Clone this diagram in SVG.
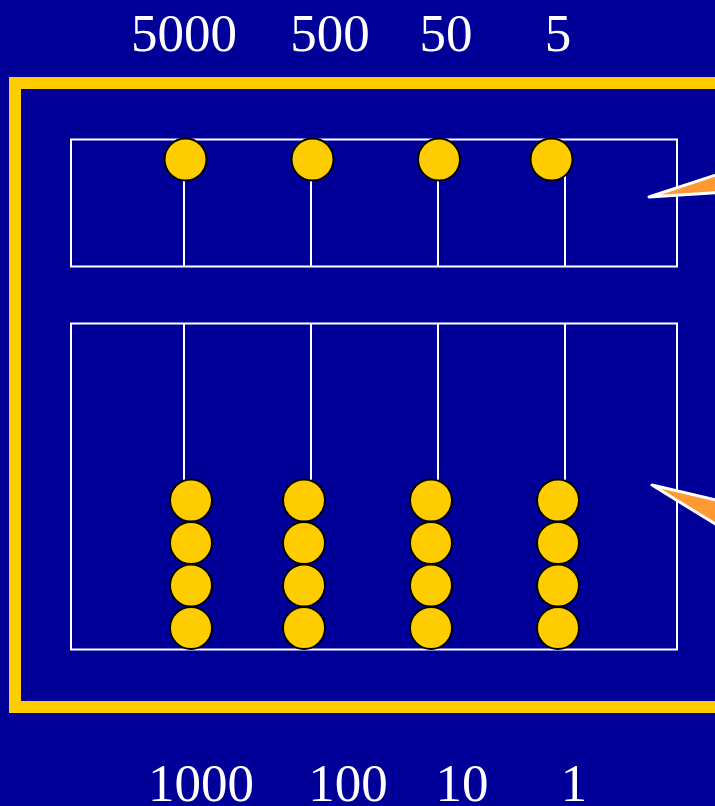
<svg xmlns="http://www.w3.org/2000/svg" width="715" height="806" viewBox="0 0 715 806">
<style>
.lbl{font-family:"Liberation Serif","Times New Roman",serif;font-size:53px;fill:#FFFFFF;text-anchor:middle}
.box{fill:none;stroke:#FFFFFF;stroke-width:2}
.rod{stroke:#FFFFFF;stroke-width:2}
.bead{fill:#FFCC00;stroke:#000000;stroke-width:2}
.ptr{fill:#FF9933;stroke:#FFFFFF;stroke-width:3;stroke-linejoin:round}
</style>
<rect width="715" height="806" fill="#000099"/>
<g id="frame"><rect x="15" y="83" width="706" height="624" fill="none" stroke="#FFCC00" stroke-width="12"/></g>
<g id="labels-top">
<text class="lbl" x="184" y="51">5000</text>
<text class="lbl" x="330" y="51">500</text>
<text class="lbl" x="446" y="51">50</text>
<text class="lbl" x="558" y="51">5</text>
</g>
<g id="labels-bottom">
<text class="lbl" x="201" y="801">1000</text>
<text class="lbl" x="348" y="801">100</text>
<text class="lbl" x="462" y="801">10</text>
<text class="lbl" x="574" y="801">1</text>
</g>
<g id="upper-deck">
<rect class="box" x="71" y="139.5" width="606" height="127"/>
<line class="rod" x1="184" y1="170" x2="184" y2="266"/>
<line class="rod" x1="311" y1="170" x2="311" y2="266"/>
<line class="rod" x1="438" y1="170" x2="438" y2="266"/>
<line class="rod" x1="565" y1="170" x2="565" y2="266"/>
<circle class="bead" cx="185.5" cy="159.5" r="21"/>
<circle class="bead" cx="312.5" cy="159.5" r="21"/>
<circle class="bead" cx="439" cy="159.5" r="21"/>
<circle class="bead" cx="551.5" cy="159.5" r="21"/>
</g>
<g id="lower-deck">
<rect class="box" x="71" y="323.5" width="606" height="326"/>
<line class="rod" x1="184" y1="324" x2="184" y2="482"/>
<line class="rod" x1="311" y1="324" x2="311" y2="482"/>
<line class="rod" x1="438" y1="324" x2="438" y2="482"/>
<line class="rod" x1="565" y1="324" x2="565" y2="482"/>
<g>
<circle class="bead" cx="191" cy="500.5" r="21"/>
<circle class="bead" cx="191" cy="543" r="21"/>
<circle class="bead" cx="191" cy="585.5" r="21"/>
<circle class="bead" cx="191" cy="628" r="21"/>
</g>
<g>
<circle class="bead" cx="304" cy="500.5" r="21"/>
<circle class="bead" cx="304" cy="543" r="21"/>
<circle class="bead" cx="304" cy="585.5" r="21"/>
<circle class="bead" cx="304" cy="628" r="21"/>
</g>
<g>
<circle class="bead" cx="431" cy="500.5" r="21"/>
<circle class="bead" cx="431" cy="543" r="21"/>
<circle class="bead" cx="431" cy="585.5" r="21"/>
<circle class="bead" cx="431" cy="628" r="21"/>
</g>
<g>
<circle class="bead" cx="558" cy="500.5" r="21"/>
<circle class="bead" cx="558" cy="543" r="21"/>
<circle class="bead" cx="558" cy="585.5" r="21"/>
<circle class="bead" cx="558" cy="628" r="21"/>
</g>
</g>
<g id="connectors">
<polygon class="ptr" points="649,197 725,172 725,192"/>
<polygon class="ptr" points="652,485 725,502 725,530"/>
</g>
</svg>
